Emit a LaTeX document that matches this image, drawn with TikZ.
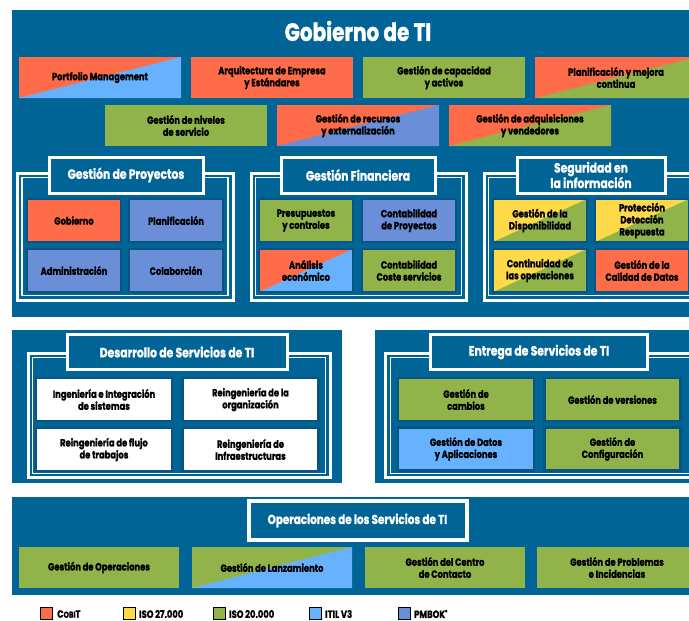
\documentclass[tikz,border=0pt]{standalone}
\usepackage{fontspec}
\setmainfont{Poppins}[FakeStretch=0.8, BoldFeatures={FakeBold=1.2}]
\definecolor{panel}{RGB}{0,100,150}
\definecolor{cellline}{RGB}{10,84,130}
\definecolor{cobit}{RGB}{255,108,74}
\definecolor{isoy}{RGB}{255,218,72}
\definecolor{isog}{RGB}{144,180,74}
\definecolor{itil}{RGB}{102,178,255}
\definecolor{pmbok}{RGB}{106,143,216}
\newcommand{\cellfont}{\bfseries\fontsize{10.4}{12}\selectfont}
\newcommand{\tabfont}{\bfseries\fontsize{13.5}{15.5}\selectfont}
\begin{document}
\begin{tikzpicture}[x=1pt,y=-1pt,
  cell/.style={rectangle, inner sep=0pt, align=center, font=\cellfont, text=black},
  wide/.style={cell, minimum width=162pt, minimum height=41pt},
  gcell/.style={cell, draw=cellline, line width=2.2pt, minimum width=94pt, minimum height=43pt},
  dcell/.style={cell, draw=cellline, line width=2.2pt, minimum width=136pt, minimum height=43pt},
  lower/.style={path picture={\fill[#1] (path picture bounding box.south west) -- (path picture bounding box.south east) -- (path picture bounding box.north east) -- cycle;}},
  tab/.style={rectangle, fill=panel, draw=white, line width=3pt, text=white, font=\tabfont, align=center, inner sep=0pt},
  outerline/.style={draw=white, line width=3pt},
  innerline/.style={draw=white, line width=1.5pt},
  legsq/.style={rectangle, draw=black, line width=0.6pt, minimum width=12pt, minimum height=12pt, inner sep=0pt},
  legtxt/.style={anchor=west, font=\bfseries\fontsize{10.5}{11}\selectfont, inner sep=0pt}]
\useasboundingbox (0,0) rectangle (689,621);
\clip (0,0) rectangle (689,621);

% ---------- Gobierno de TI ----------
\fill[panel] (12,10) rectangle (700,317);
\node[text=white, font=\bfseries\fontsize{25}{28}\selectfont] (gob) at (358,31) {Gobierno de TI};

\node[wide, fill=cobit, lower=itil] (pm) at (100,77.5) {Portfolio Management};
\node[wide, fill=cobit] (aee) at (272,77.5) {Arquitectura de Empresa\\y Estándares};
\node[wide, fill=isog] (gcap) at (444,77.5) {Gestión de capacidad\\y activos};
\node[wide, fill=cobit, lower=isog] (pmc) at (616,77.5) {Planificación y mejora\\continua};

\node[wide, fill=isog] (gns) at (186,125.5) {Gestión de niveles\\de servicio};
\node[wide, fill=cobit, lower=pmbok] (grec) at (358,125.5) {Gestión de recursos\\y externalización};
\node[wide, fill=cobit, lower=isog] (gadq) at (530,125.5) {Gestión de adquisiciones\\y vendedores};

% Gestión de Proyectos
\path[outerline] (17,173) rectangle (233,300);
\path[innerline] (22,177.5) rectangle (228,295.5);
\node[tab, minimum width=154pt, minimum height=36pt] (tp) at (126,175) {Gestión de Proyectos};
\node[gcell, fill=cobit] (p1) at (74,220.5) {Gobierno};
\node[gcell, fill=pmbok] (p2) at (176,220.5) {Planificación};
\node[gcell, fill=pmbok] (p3) at (74,270.5) {Administración};
\node[gcell, fill=pmbok] (p4) at (176,270.5) {Colaborción};

% Gestión Financiera
\path[outerline] (251,173) rectangle (466,300);
\path[innerline] (255.5,177.5) rectangle (461.5,295.5);
\node[tab, minimum width=154pt, minimum height=36pt] (tf) at (358,175) {Gestión Financiera};
\node[gcell, fill=isog] (f1) at (306,220.5) {Presupuestos\\y controles};
\node[gcell, fill=pmbok] (f2) at (409,220.5) {Contabilidad\\de Proyectos};
\node[gcell, fill=cobit, lower=itil] (f3) at (306,270.5) {Análisis\\económico};
\node[gcell, fill=isog] (f4) at (409,270.5) {Contabilidad\\Coste servicios};

% Seguridad en la información
\path[outerline] (484,173) rectangle (700,300);
\path[innerline] (488.5,177.5) rectangle (700,295.5);
\node[tab, minimum width=148pt, minimum height=36pt] (ts) at (591,175) {Seguridad en\\la información};
\node[gcell, fill=isoy, lower=isog] (s1) at (540,220.5) {Gestión de la\\Disponibilidad};
\node[gcell, fill=isoy, lower=isog] (s2) at (642,220.5) {Protección\\Detección\\Respuesta};
\node[gcell, fill=isoy, lower=isog] (s3) at (540,270.5) {Continuidad de\\las operaciones};
\node[gcell, fill=cobit] (s4) at (642,270.5) {Gestión de la\\Calidad de Datos};

% ---------- Desarrollo de Servicios de TI ----------
\fill[panel] (12,330) rectangle (342,483);
\path[outerline] (28,353) rectangle (330,477);
\path[innerline] (32.5,357.5) rectangle (325.5,473.5);
\node[tab, minimum width=220pt, minimum height=35pt] (td) at (177,352) {Desarrollo de Servicios de TI};
\node[dcell, fill=white] (d1) at (104,399.5) {Ingeniería e Integración\\de sistemas};
\node[dcell, fill=white] (d2) at (250.5,399.5) {Reingeniería de la\\organización};
\node[dcell, fill=white] (d3) at (104,449.5) {Reingeniería de flujo\\de trabajos};
\node[dcell, fill=white] (d4) at (250.5,449.5) {Reingeniería de\\Infraestructuras};

% ---------- Entrega de Servicios de TI ----------
\fill[panel] (375,330) rectangle (700,483);
\path[outerline] (385,353) rectangle (700,477);
\path[innerline] (390.5,357.5) rectangle (700,473.5);
\node[tab, minimum width=217pt, minimum height=35pt] (te) at (539,352) {Entrega de Servicios de TI};
\node[dcell, fill=isog] (e1) at (466,399.5) {Gestión de\\cambios};
\node[dcell, fill=isog] (e2) at (612.5,399.5) {Gestión de versiones};
\node[dcell, fill=itil] (e3) at (466,449) {Gestión de Datos\\y Aplicaciones};
\node[dcell, fill=isog] (e4) at (612.5,449) {Gestión de\\Configuración};

% ---------- Operaciones de los Servicios de TI ----------
\fill[panel] (12,497) rectangle (700,595);
\node[tab, line width=4pt, minimum width=218pt, minimum height=39pt, font=\bfseries\fontsize{13}{15}\selectfont] (to) at (357.5,520.5) {Operaciones de los Servicios de TI};
\node[wide, minimum width=160pt, fill=isog] (o1) at (99,567.5) {Gestión de Operaciones};
\node[wide, minimum width=160pt, fill=isog, lower=itil] (o2) at (272,567.5) {Gestión de Lanzamiento};
\node[wide, minimum width=160pt, fill=isog] (o3) at (445,567.5) {Gestión del Centro\\de Contacto};
\node[wide, minimum width=160pt, fill=isog] (o4) at (617,567.5) {Gestión de Problemas\\e Incidencias};

% ---------- Legend ----------
\node[legsq, fill=cobit] (l1) at (46.5,613.5) {};
\node[legtxt] (lt1) at (57,614) {C{\fontsize{8.5}{9}\selectfont OBI}T};
\node[legsq, fill=isoy] (l2) at (129.5,613.5) {};
\node[legtxt] (lt2) at (139,614) {ISO 27.000};
\node[legsq, fill=isog] (l3) at (219.5,613.5) {};
\node[legtxt] (lt3) at (229,614) {ISO 20.000};
\node[legsq, fill=itil] (l4) at (315.5,613.5) {};
\node[legtxt] (lt4) at (325,614) {ITIL V3};
\node[legsq, fill=pmbok] (l5) at (404.5,613.5) {};
\node[legtxt] (lt5) at (414,614) {PMBOK\raisebox{0.7ex}{\fontsize{5.5}{6}\selectfont ®}};
\end{tikzpicture}
\end{document}
